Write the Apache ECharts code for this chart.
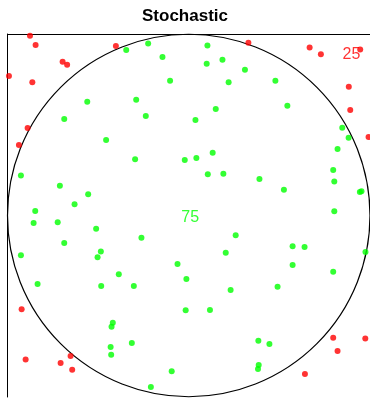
<!DOCTYPE html>
<html>
<head>
<meta charset="utf-8">
<script src="https://cdn.jsdelivr.net/npm/echarts@6/dist/echarts.min.js"></script>
<style>
html,body{margin:0;padding:0;background:#fff;}
#chart{width:370px;height:398px;}
</style>
</head>
<body>
<div id="chart"></div>
<script>
const titleText = 'Stochastic';
const insidePoints = [
  [-0.345,0.912],[-0.224,0.947],[-0.145,0.873],[-0.103,0.743],[-0.560,0.627],
  [-0.290,0.638],[-0.237,0.548],[-0.687,0.532],[-0.456,0.416],[0.103,0.936],
  [0.099,0.836],[0.186,0.858],[0.310,0.803],[0.220,0.734],[0.478,0.743],
  [0.544,0.605],[0.149,0.587],[0.037,0.526],[0.847,0.484],[0.882,0.429],
  [0.821,0.366],[0.132,0.346],[-0.296,0.310],[-0.022,0.306],[-0.926,0.221],
  [-0.711,0.164],[-0.555,0.117],[-0.630,0.062],[-0.847,0.025],[-0.856,-0.041],
  [-0.723,-0.037],[-0.511,-0.073],[-0.687,-0.152],[-0.261,-0.122],[-0.926,-0.219],
  [-0.485,-0.199],[-0.503,-0.230],[-0.062,-0.267],[-0.386,-0.324],[0.042,0.317],
  [0.105,0.227],[0.191,0.230],[0.390,0.201],[0.525,0.142],[0.797,0.251],
  [0.803,0.188],[0.944,0.129],[0.953,0.133],[0.803,0.023],[0.259,-0.109],
  [0.204,-0.205],[0.573,-0.170],[0.639,-0.174],[0.573,-0.273],[0.797,-0.310],
  [0.975,-0.201],[-0.834,-0.377],[-0.483,-0.388],[-0.303,-0.388],[-0.013,-0.350],
  [-0.017,-0.522],[-0.419,-0.591],[-0.426,-0.613],[-0.431,-0.725],[-0.314,-0.702],
  [-0.428,-0.767],[-0.094,-0.858],[-0.209,-0.945],[0.231,-0.410],[0.490,-0.392],
  [0.117,-0.521],[0.384,-0.690],[0.445,-0.708],[0.386,-0.824],[0.382,-0.846]
];
const outsidePoints = [
  [-0.876,0.991],[-0.845,0.939],[-0.696,0.847],[-0.671,0.831],[-0.992,0.769],
  [-0.863,0.734],[-0.402,0.934],[-0.889,0.482],[-0.937,0.388],[0.329,0.952],
  [0.667,0.925],[0.729,0.888],[0.946,0.914],[0.883,0.710],[0.891,0.581],
  [0.992,0.433],[-0.922,-0.517],[-0.900,-0.794],[-0.707,-0.813],[-0.652,-0.774],
  [-0.643,-0.850],[0.797,-0.673],[0.974,-0.677],[0.821,-0.747],[0.641,-0.873]
];
const circleCenter = [0, 0];
const circleRadius = 1;
const insideLabelPos = [0.008, -0.014];
const outsideLabelPos = [0.898, 0.884];
const axisRange = [-1, 1];

const chart = echarts.init(document.getElementById('chart'), null, {renderer: 'canvas'});
const RED = '#FF0000', GREEN = '#00FF00';
chart.setOption({
  animation: false,
  backgroundColor: '#ffffff',
  title: {
    text: titleText, left: 'center', top: 3,
    textStyle: {fontFamily: 'Liberation Sans, Arial, sans-serif', fontWeight: 'bold', fontSize: 17, color: '#000'}
  },
  grid: {left: 7.5, top: 34, width: 363, height: 363, containLabel: false},
  xAxis: {
    type: 'value', min: axisRange[0], max: axisRange[1], position: 'top',
    axisLine: {show: true, onZero: false, lineStyle: {color: '#000', width: 1}},
    axisTick: {show: false}, axisLabel: {show: false}, splitLine: {show: false}
  },
  yAxis: {
    type: 'value', min: axisRange[0], max: axisRange[1], position: 'left',
    axisLine: {show: true, onZero: false, lineStyle: {color: '#000', width: 1}},
    axisTick: {show: false}, axisLabel: {show: false}, splitLine: {show: false}
  },
  series: [
    {
      type: 'custom',
      data: [[circleCenter[0], circleCenter[1], circleRadius]],
      silent: true,
      z: 1,
      renderItem: function (params, api) {
        const c = api.coord([api.value(0), api.value(1)]);
        const r = api.size([api.value(2), 0])[0];
        return {
          type: 'circle',
          shape: {cx: c[0], cy: c[1], r: r},
          style: {fill: null, stroke: '#000', lineWidth: 1.2}
        };
      }
    },
    {
      type: 'scatter', data: outsidePoints, symbol: 'circle', symbolSize: 6,
      itemStyle: {color: RED}, z: 3
    },
    {
      type: 'scatter', data: insidePoints, symbol: 'circle', symbolSize: 6,
      itemStyle: {color: GREEN}, z: 3
    },
    {
      type: 'scatter', symbolSize: 0, z: 4,
      data: [
        {value: outsideLabelPos, label: {formatter: String(outsidePoints.length), color: RED}},
        {value: insideLabelPos, label: {formatter: String(insidePoints.length), color: GREEN}}
      ],
      label: {show: true, position: 'inside', fontFamily: 'Liberation Sans, Arial, sans-serif', fontSize: 16}
    }
  ]
});
</script>
</body>
</html>
